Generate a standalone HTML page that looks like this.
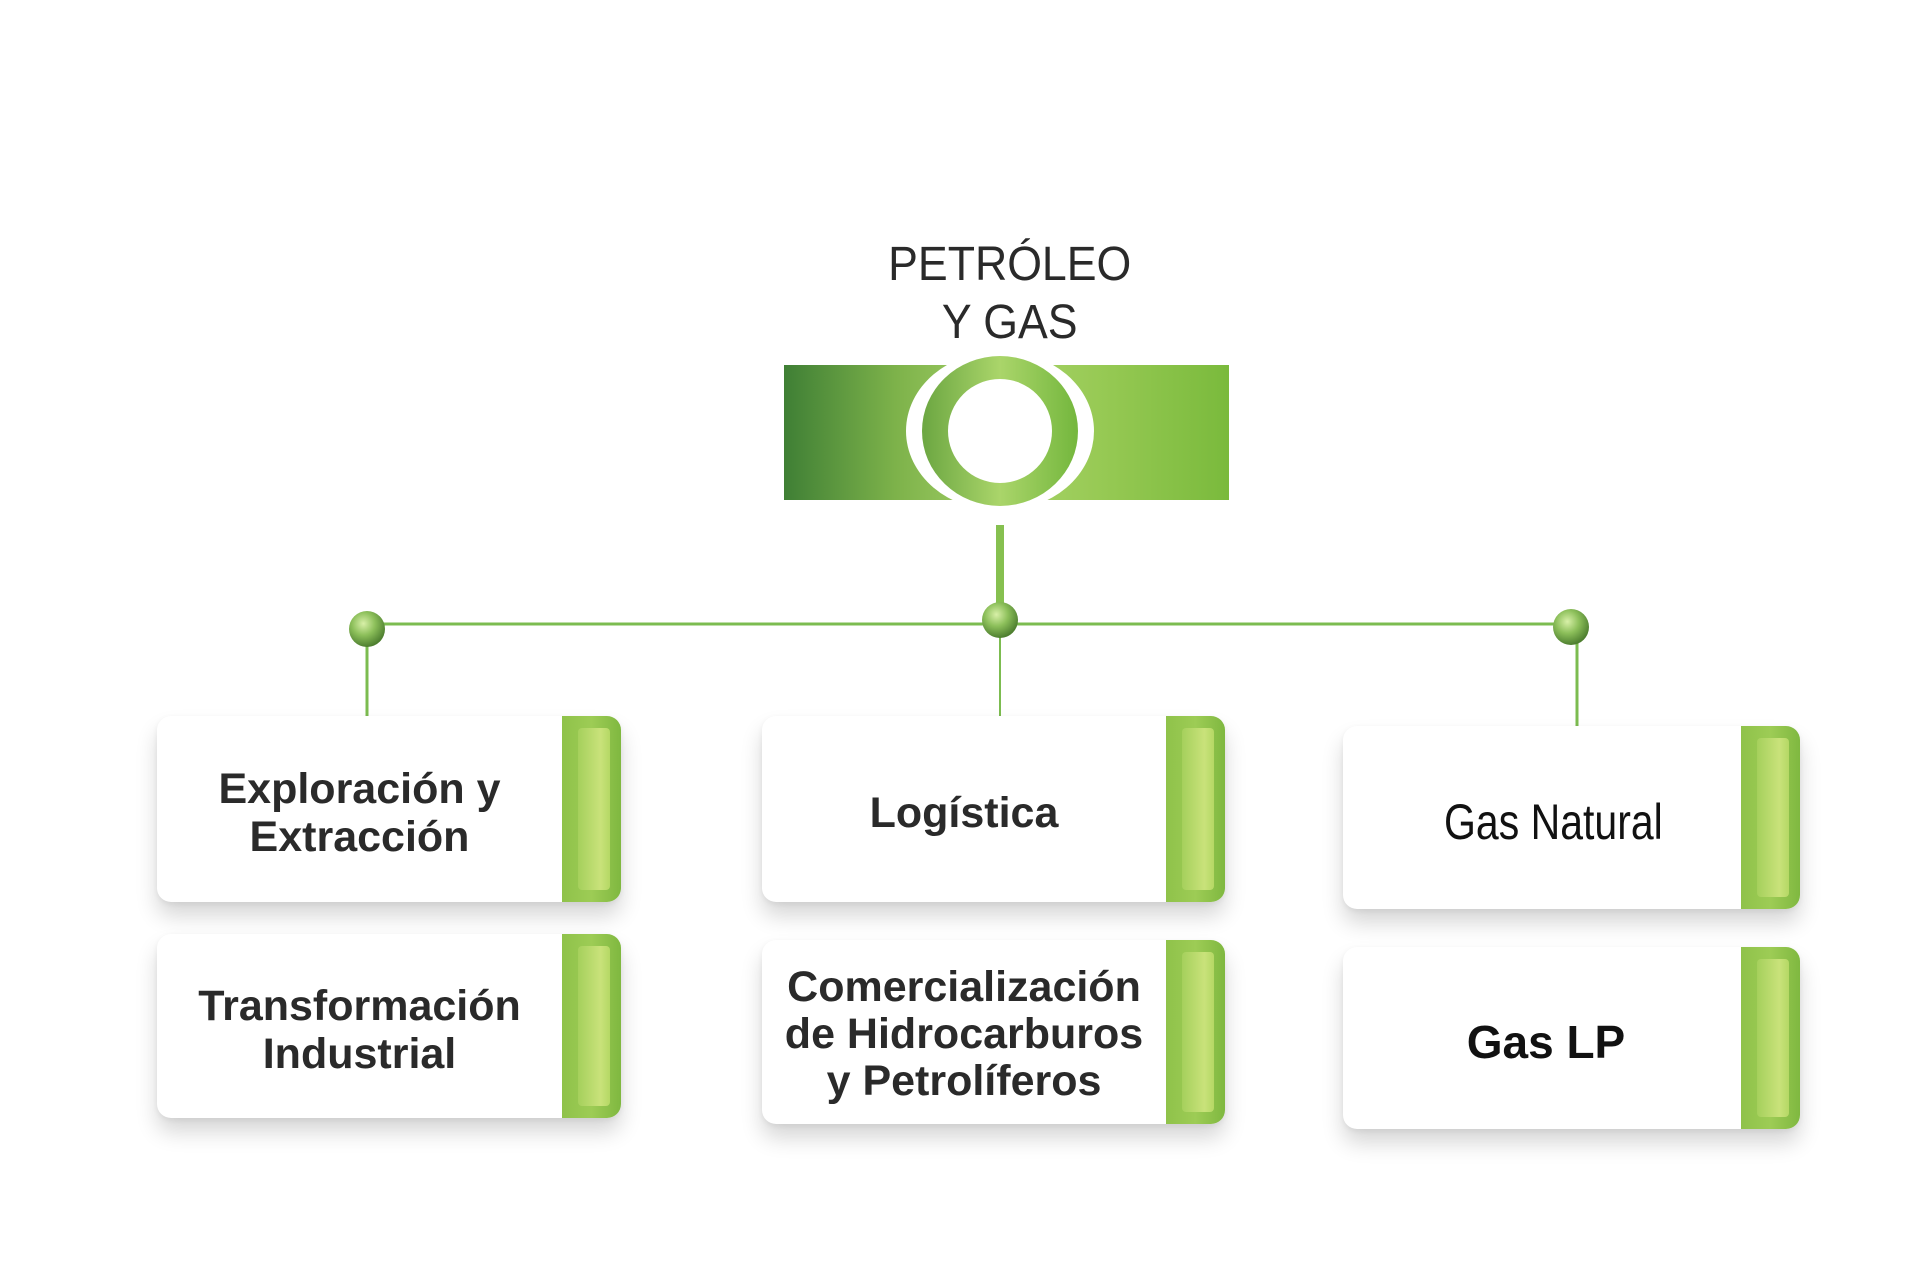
<!DOCTYPE html>
<html><head><meta charset="utf-8"><style>
body{margin:0;width:1920px;height:1280px;background:#fff;position:relative;overflow:hidden;font-family:"Liberation Sans",sans-serif}
.t{position:absolute;color:#2a2a2a;text-align:center}
.box{position:absolute;background:#fff;border-radius:14px;box-shadow:0 14px 22px rgba(0,0,0,0.16),0 2px 6px rgba(0,0,0,0.06);display:flex;align-items:center;justify-content:center}
.box .lbl{position:absolute;left:0;right:59px;top:8px;bottom:0;display:flex;align-items:center;justify-content:center;text-align:center;font-weight:bold;font-size:43px;line-height:48px;color:#2a2a2a}
.box .bar{position:absolute;right:0;top:0;bottom:0;width:59px;border-radius:0 14px 14px 0;background:linear-gradient(90deg,#8fc24a,#9dcc55 50%,#7fb840)}
.box .bar:after{content:"";position:absolute;left:16px;right:11px;top:12px;bottom:12px;border-radius:4px;background:linear-gradient(90deg,#a5d05c,#c9e27a 70%,#b5d865);}
</style></head><body>
<div class="t" style="left:800px;width:420px;top:236px;font-size:48px;line-height:58px;"><span style="display:inline-block;transform:scaleX(0.93)">PETRÓLEO<br>Y GAS</span></div>
<svg width="1920" height="1280" style="position:absolute;left:0;top:0">
<defs>
<linearGradient id="g" x1="784" x2="1229" y1="0" y2="0" gradientUnits="userSpaceOnUse">
<stop offset="0" stop-color="#3f7f35"/><stop offset="0.25" stop-color="#7db24a"/><stop offset="0.5" stop-color="#a8d46a"/><stop offset="0.7" stop-color="#98ca55"/><stop offset="1" stop-color="#7aba3c"/></linearGradient>
<linearGradient id="r" x1="925" x2="1075" y1="0" y2="0" gradientUnits="userSpaceOnUse">
<stop offset="0" stop-color="#6ea843"/><stop offset="0.5" stop-color="#aad56a"/><stop offset="1" stop-color="#76b83f"/></linearGradient>
<radialGradient id="d" cx="0.4" cy="0.35" r="0.65"><stop offset="0" stop-color="#d8f0a8"/><stop offset="0.5" stop-color="#8cbf5a"/><stop offset="1" stop-color="#4e7f30"/></radialGradient>
</defs>
<rect x="784" y="365" width="445" height="135" fill="url(#g)"/>
<ellipse cx="1000" cy="431" rx="94" ry="80" fill="#fff"/>
<ellipse cx="1000" cy="431" rx="78" ry="75" fill="url(#r)"/>
<ellipse cx="1000" cy="431" rx="52" ry="52" fill="#fff"/>
<rect x="996" y="525" width="8" height="85" fill="#86c050"/>
<line x1="367" y1="624" x2="1571" y2="624" stroke="#7cbc50" stroke-width="3"/>
<line x1="367" y1="628" x2="367" y2="716" stroke="#7cbc50" stroke-width="3"/>
<line x1="1000" y1="620" x2="1000" y2="716" stroke="#7cbc50" stroke-width="2"/>
<line x1="1577" y1="628" x2="1577" y2="726" stroke="#7cbc50" stroke-width="3"/>
<circle cx="367" cy="629" r="18" fill="url(#d)"/>
<circle cx="1000" cy="620" r="18" fill="url(#d)"/>
<circle cx="1571" cy="627" r="18" fill="url(#d)"/>
</svg>
<div class="box" style="left:157px;top:716px;width:464px;height:186px"><div class="lbl">Exploración y<br>Extracción</div><div class="bar"></div></div>
<div class="box" style="left:157px;top:934px;width:464px;height:184px"><div class="lbl">Transformación<br>Industrial</div><div class="bar"></div></div>
<div class="box" style="left:762px;top:716px;width:463px;height:186px"><div class="lbl">Logística</div><div class="bar"></div></div>
<div class="box" style="left:762px;top:940px;width:463px;height:184px"><div class="lbl" style="line-height:47px;top:4px">Comercialización<br>de Hidrocarburos<br>y Petrolíferos</div><div class="bar"></div></div>
<div class="box" style="left:1343px;top:726px;width:457px;height:183px"><div class="lbl" style="font-weight:normal;color:#111;font-size:50px;left:22px"><span style="display:inline-block;transform:scaleX(0.82)">Gas Natural</span></div><div class="bar"></div></div>
<div class="box" style="left:1343px;top:947px;width:457px;height:182px"><div class="lbl" style="color:#111;font-size:46px;left:8px">Gas LP</div><div class="bar"></div></div>
</body></html>
